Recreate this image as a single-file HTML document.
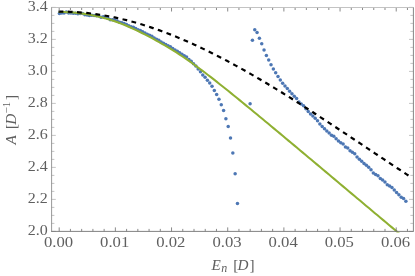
<!DOCTYPE html>
<html><head><meta charset="utf-8"><style>
html,body{margin:0;padding:0;background:#fff;}
svg{display:block;font-family:"Liberation Serif",serif;}
</style></head><body>
<svg width="415" height="276" viewBox="0 0 415 276">
<rect width="415" height="276" fill="#fff"/>
<g fill="#4d77b4"><circle cx="59.40" cy="13.60" r="1.75"/><circle cx="61.71" cy="13.02" r="1.75"/><circle cx="64.03" cy="12.92" r="1.75"/><circle cx="66.34" cy="12.12" r="1.75"/><circle cx="68.65" cy="12.94" r="1.75"/><circle cx="70.96" cy="13.03" r="1.75"/><circle cx="73.28" cy="13.30" r="1.75"/><circle cx="75.59" cy="13.20" r="1.75"/><circle cx="77.90" cy="13.63" r="1.75"/><circle cx="80.21" cy="13.60" r="1.75"/><circle cx="82.53" cy="13.42" r="1.75"/><circle cx="84.84" cy="14.65" r="1.75"/><circle cx="87.15" cy="14.93" r="1.75"/><circle cx="89.46" cy="15.62" r="1.75"/><circle cx="91.78" cy="15.22" r="1.75"/><circle cx="94.09" cy="15.38" r="1.75"/><circle cx="96.40" cy="15.71" r="1.75"/><circle cx="98.71" cy="15.67" r="1.75"/><circle cx="101.03" cy="17.24" r="1.75"/><circle cx="103.34" cy="16.79" r="1.75"/><circle cx="105.65" cy="17.31" r="1.75"/><circle cx="107.96" cy="18.35" r="1.75"/><circle cx="110.28" cy="19.75" r="1.75"/><circle cx="112.59" cy="19.85" r="1.75"/><circle cx="114.90" cy="20.00" r="1.75"/><circle cx="117.21" cy="20.89" r="1.75"/><circle cx="119.53" cy="22.29" r="1.75"/><circle cx="121.84" cy="22.80" r="1.75"/><circle cx="124.15" cy="23.56" r="1.75"/><circle cx="126.46" cy="24.55" r="1.75"/><circle cx="128.78" cy="25.64" r="1.75"/><circle cx="131.09" cy="26.85" r="1.75"/><circle cx="133.40" cy="27.35" r="1.75"/><circle cx="135.71" cy="28.60" r="1.75"/><circle cx="138.03" cy="29.71" r="1.75"/><circle cx="140.34" cy="30.52" r="1.75"/><circle cx="142.65" cy="31.85" r="1.75"/><circle cx="144.96" cy="32.88" r="1.75"/><circle cx="147.28" cy="34.35" r="1.75"/><circle cx="149.59" cy="35.29" r="1.75"/><circle cx="151.90" cy="36.27" r="1.75"/><circle cx="154.21" cy="38.00" r="1.75"/><circle cx="156.53" cy="39.18" r="1.75"/><circle cx="158.84" cy="40.31" r="1.75"/><circle cx="161.15" cy="41.89" r="1.75"/><circle cx="163.46" cy="43.23" r="1.75"/><circle cx="165.78" cy="44.47" r="1.75"/><circle cx="168.09" cy="45.86" r="1.75"/><circle cx="170.40" cy="46.72" r="1.75"/><circle cx="172.71" cy="48.38" r="1.75"/><circle cx="175.03" cy="49.92" r="1.75"/><circle cx="177.34" cy="51.22" r="1.75"/><circle cx="179.65" cy="52.66" r="1.75"/><circle cx="181.96" cy="54.15" r="1.75"/><circle cx="184.28" cy="55.81" r="1.75"/><circle cx="186.59" cy="57.10" r="1.75"/><circle cx="188.90" cy="59.50" r="1.75"/><circle cx="191.21" cy="61.26" r="1.75"/><circle cx="193.53" cy="63.82" r="1.75"/><circle cx="195.84" cy="65.99" r="1.75"/><circle cx="198.15" cy="69.07" r="1.75"/><circle cx="200.46" cy="71.65" r="1.75"/><circle cx="202.78" cy="74.93" r="1.75"/><circle cx="205.09" cy="77.18" r="1.75"/><circle cx="207.40" cy="80.17" r="1.75"/><circle cx="209.71" cy="82.99" r="1.75"/><circle cx="212.03" cy="86.28" r="1.75"/><circle cx="214.34" cy="90.49" r="1.75"/><circle cx="216.65" cy="94.41" r="1.75"/><circle cx="218.96" cy="99.32" r="1.75"/><circle cx="221.28" cy="104.82" r="1.75"/><circle cx="223.59" cy="110.56" r="1.75"/><circle cx="225.90" cy="118.80" r="1.75"/><circle cx="228.21" cy="126.45" r="1.75"/><circle cx="230.53" cy="137.97" r="1.75"/><circle cx="232.84" cy="153.03" r="1.75"/><circle cx="235.15" cy="173.87" r="1.75"/><circle cx="237.46" cy="203.54" r="1.75"/><circle cx="250.10" cy="103.80" r="1.75"/><circle cx="252.42" cy="40.30" r="1.75"/><circle cx="254.75" cy="29.72" r="1.75"/><circle cx="257.07" cy="32.42" r="1.75"/><circle cx="259.40" cy="38.24" r="1.75"/><circle cx="261.73" cy="43.66" r="1.75"/><circle cx="264.05" cy="49.93" r="1.75"/><circle cx="266.38" cy="55.46" r="1.75"/><circle cx="268.70" cy="59.90" r="1.75"/><circle cx="271.02" cy="64.75" r="1.75"/><circle cx="273.35" cy="69.06" r="1.75"/><circle cx="275.68" cy="72.78" r="1.75"/><circle cx="278.00" cy="76.41" r="1.75"/><circle cx="280.32" cy="80.03" r="1.75"/><circle cx="282.65" cy="83.19" r="1.75"/><circle cx="284.98" cy="86.00" r="1.75"/><circle cx="287.30" cy="88.62" r="1.75"/><circle cx="289.62" cy="91.16" r="1.75"/><circle cx="291.95" cy="93.66" r="1.75"/><circle cx="294.27" cy="96.14" r="1.75"/><circle cx="296.60" cy="98.52" r="1.75"/><circle cx="298.93" cy="101.89" r="1.75"/><circle cx="301.25" cy="104.01" r="1.75"/><circle cx="303.57" cy="105.84" r="1.75"/><circle cx="305.90" cy="108.79" r="1.75"/><circle cx="308.23" cy="111.44" r="1.75"/><circle cx="310.55" cy="114.04" r="1.75"/><circle cx="312.88" cy="116.04" r="1.75"/><circle cx="315.20" cy="118.24" r="1.75"/><circle cx="317.52" cy="120.78" r="1.75"/><circle cx="319.85" cy="123.96" r="1.75"/><circle cx="322.18" cy="126.52" r="1.75"/><circle cx="324.50" cy="128.76" r="1.75"/><circle cx="326.82" cy="131.11" r="1.75"/><circle cx="329.15" cy="132.96" r="1.75"/><circle cx="331.48" cy="135.35" r="1.75"/><circle cx="333.80" cy="136.35" r="1.75"/><circle cx="336.12" cy="138.80" r="1.75"/><circle cx="338.45" cy="140.89" r="1.75"/><circle cx="340.77" cy="142.63" r="1.75"/><circle cx="343.10" cy="143.90" r="1.75"/><circle cx="345.43" cy="147.07" r="1.75"/><circle cx="347.75" cy="148.08" r="1.75"/><circle cx="350.07" cy="150.76" r="1.75"/><circle cx="352.40" cy="152.26" r="1.75"/><circle cx="354.73" cy="153.87" r="1.75"/><circle cx="357.05" cy="157.02" r="1.75"/><circle cx="359.38" cy="159.18" r="1.75"/><circle cx="361.70" cy="161.13" r="1.75"/><circle cx="364.02" cy="163.47" r="1.75"/><circle cx="366.35" cy="165.15" r="1.75"/><circle cx="368.68" cy="167.25" r="1.75"/><circle cx="371.00" cy="169.70" r="1.75"/><circle cx="373.32" cy="172.92" r="1.75"/><circle cx="375.65" cy="174.46" r="1.75"/><circle cx="377.98" cy="175.85" r="1.75"/><circle cx="380.30" cy="178.48" r="1.75"/><circle cx="382.62" cy="179.98" r="1.75"/><circle cx="384.95" cy="182.03" r="1.75"/><circle cx="387.27" cy="184.75" r="1.75"/><circle cx="389.60" cy="186.05" r="1.75"/><circle cx="391.93" cy="187.49" r="1.75"/><circle cx="394.25" cy="189.96" r="1.75"/><circle cx="396.58" cy="192.55" r="1.75"/><circle cx="398.90" cy="194.66" r="1.75"/><circle cx="401.23" cy="197.33" r="1.75"/><circle cx="403.55" cy="198.40" r="1.75"/><circle cx="405.88" cy="201.26" r="1.75"/></g>
<path d="M58.60,11.99 L61.47,12.01 L64.35,12.07 L67.22,12.18 L70.09,12.34 L72.97,12.55 L75.84,12.81 L78.71,13.12 L81.58,13.47 L84.46,13.88 L87.33,14.33 L90.20,14.84 L93.08,15.40 L95.95,16.00 L98.82,16.66 L101.70,17.38 L104.57,18.14 L107.44,18.97 L110.32,19.84 L113.19,20.78 L116.06,21.76 L118.94,22.81 L121.81,23.91 L124.68,25.06 L127.55,26.26 L130.43,27.51 L133.30,28.81 L136.17,30.16 L139.05,31.54 L141.92,32.96 L144.79,34.41 L147.67,35.90 L150.54,37.41 L153.41,38.96 L156.29,40.53 L159.16,42.13 L162.03,43.77 L164.91,45.44 L167.78,47.14 L170.65,48.88 L173.52,50.66 L176.40,52.48 L179.27,54.34 L182.14,56.25 L185.02,58.19 L187.89,60.17 L190.76,62.19 L193.64,64.24 L196.51,66.33 L199.38,68.45 L202.26,70.59 L205.13,72.77 L208.00,74.96 L210.87,77.18 L213.75,79.42 L216.62,81.67 L219.49,83.94 L222.37,86.22 L225.24,88.51 L228.11,90.82 L230.99,93.14 L233.86,95.46 L236.73,97.80 L239.61,100.14 L242.48,102.48 L245.35,104.84 L248.23,107.20 L251.10,109.56 L253.97,111.93 L256.84,114.31 L259.72,116.68 L262.59,119.06 L265.46,121.45 L268.34,123.83 L271.21,126.22 L274.08,128.61 L276.96,131.00 L279.83,133.40 L282.70,135.80 L285.58,138.19 L288.45,140.59 L291.32,143.00 L294.19,145.40 L297.07,147.80 L299.94,150.21 L302.81,152.61 L305.69,155.02 L308.56,157.42 L311.43,159.83 L314.31,162.24 L317.18,164.65 L320.05,167.06 L322.93,169.47 L325.80,171.88 L328.67,174.29 L331.55,176.70 L334.42,179.11 L337.29,181.53 L340.16,183.94 L343.04,186.35 L345.91,188.77 L348.78,191.18 L351.66,193.59 L354.53,196.01 L357.40,198.42 L360.28,200.83 L363.15,203.25 L366.02,205.66 L368.90,208.08 L371.77,210.49 L374.64,212.91 L377.52,215.32 L380.39,217.74 L383.26,220.15 L386.13,222.57 L389.01,224.98 L391.88,227.40 L394.75,229.82 L397.63,232.23 L400.50,234.65" fill="none" stroke="#8fb032" stroke-width="2.05" clip-path="url(#c)"/>
<path d="M58.60,11.54 L61.55,11.55 L64.51,11.59 L67.46,11.67 L70.41,11.78 L73.36,11.93 L76.32,12.11 L79.27,12.32 L82.22,12.57 L85.18,12.85 L88.13,13.16 L91.08,13.50 L94.04,13.88 L96.99,14.30 L99.94,14.74 L102.89,15.22 L105.85,15.73 L108.80,16.27 L111.75,16.84 L114.71,17.45 L117.66,18.09 L120.61,18.76 L123.56,19.45 L126.52,20.18 L129.47,20.95 L132.42,21.74 L135.38,22.56 L138.33,23.41 L141.28,24.29 L144.24,25.20 L147.19,26.13 L150.14,27.10 L153.09,28.09 L156.05,29.11 L159.00,30.16 L161.95,31.23 L164.91,32.34 L167.86,33.46 L170.81,34.62 L173.76,35.79 L176.72,37.00 L179.67,38.22 L182.62,39.48 L185.58,40.75 L188.53,42.05 L191.48,43.37 L194.44,44.71 L197.39,46.08 L200.34,47.47 L203.29,48.87 L206.25,50.30 L209.20,51.75 L212.15,53.22 L215.11,54.71 L218.06,56.22 L221.01,57.74 L223.96,59.28 L226.92,60.84 L229.87,62.42 L232.82,64.02 L235.78,65.63 L238.73,67.26 L241.68,68.90 L244.64,70.55 L247.59,72.23 L250.54,73.91 L253.49,75.61 L256.45,77.32 L259.40,79.05 L262.35,80.79 L265.31,82.54 L268.26,84.30 L271.21,86.07 L274.16,87.86 L277.12,89.65 L280.07,91.45 L283.02,93.27 L285.98,95.09 L288.93,96.92 L291.88,98.78 L294.84,100.66 L297.79,102.54 L300.74,104.42 L303.69,106.32 L306.65,108.22 L309.60,110.13 L312.55,112.04 L315.51,113.96 L318.46,115.88 L321.41,117.81 L324.36,119.75 L327.32,121.68 L330.27,123.63 L333.22,125.57 L336.18,127.52 L339.13,129.47 L342.08,131.43 L345.04,133.38 L347.99,135.34 L350.94,137.31 L353.89,139.27 L356.85,141.23 L359.80,143.20 L362.75,145.17 L365.71,147.13 L368.66,149.10 L371.61,151.07 L374.56,153.04 L377.52,155.00 L380.47,156.97 L383.42,158.94 L386.38,160.90 L389.33,162.87 L392.28,164.83 L395.24,166.79 L398.19,168.75 L401.14,170.69 L404.09,172.62 L407.05,174.55 L410.00,176.48" fill="none" stroke="#000" stroke-width="2.2" stroke-dasharray="4.8 4.42"/>
<clipPath id="c"><rect x="51.5" y="7.5" width="361.8" height="224.9"/></clipPath>
<path d="M59.20,231.4 v-4.0 M59.20,7.5 v4.0 M70.43,231.4 v-2.5 M70.43,7.5 v2.5 M81.67,231.4 v-2.5 M81.67,7.5 v2.5 M92.90,231.4 v-2.5 M92.90,7.5 v2.5 M104.14,231.4 v-2.5 M104.14,7.5 v2.5 M115.37,231.4 v-4.0 M115.37,7.5 v4.0 M126.60,231.4 v-2.5 M126.60,7.5 v2.5 M137.84,231.4 v-2.5 M137.84,7.5 v2.5 M149.07,231.4 v-2.5 M149.07,7.5 v2.5 M160.31,231.4 v-2.5 M160.31,7.5 v2.5 M171.54,231.4 v-4.0 M171.54,7.5 v4.0 M182.77,231.4 v-2.5 M182.77,7.5 v2.5 M194.01,231.4 v-2.5 M194.01,7.5 v2.5 M205.24,231.4 v-2.5 M205.24,7.5 v2.5 M216.48,231.4 v-2.5 M216.48,7.5 v2.5 M227.71,231.4 v-4.0 M227.71,7.5 v4.0 M238.94,231.4 v-2.5 M238.94,7.5 v2.5 M250.18,231.4 v-2.5 M250.18,7.5 v2.5 M261.41,231.4 v-2.5 M261.41,7.5 v2.5 M272.65,231.4 v-2.5 M272.65,7.5 v2.5 M283.88,231.4 v-4.0 M283.88,7.5 v4.0 M295.11,231.4 v-2.5 M295.11,7.5 v2.5 M306.35,231.4 v-2.5 M306.35,7.5 v2.5 M317.58,231.4 v-2.5 M317.58,7.5 v2.5 M328.82,231.4 v-2.5 M328.82,7.5 v2.5 M340.05,231.4 v-4.0 M340.05,7.5 v4.0 M351.28,231.4 v-2.5 M351.28,7.5 v2.5 M362.52,231.4 v-2.5 M362.52,7.5 v2.5 M373.75,231.4 v-2.5 M373.75,7.5 v2.5 M384.99,231.4 v-2.5 M384.99,7.5 v2.5 M396.22,231.4 v-4.0 M396.22,7.5 v4.0 M407.45,231.4 v-2.5 M407.45,7.5 v2.5" stroke="#6c6c6c" stroke-width="0.8" fill="none"/>
<path d="M51.5,231.40 h4.3 M413.3,231.40 h-4.3 M51.5,223.40 h2.9 M413.3,223.40 h-2.9 M51.5,215.40 h2.9 M413.3,215.40 h-2.9 M51.5,207.40 h2.9 M413.3,207.40 h-2.9 M51.5,199.40 h4.3 M413.3,199.40 h-4.3 M51.5,191.40 h2.9 M413.3,191.40 h-2.9 M51.5,183.40 h2.9 M413.3,183.40 h-2.9 M51.5,175.40 h2.9 M413.3,175.40 h-2.9 M51.5,167.40 h4.3 M413.3,167.40 h-4.3 M51.5,159.40 h2.9 M413.3,159.40 h-2.9 M51.5,151.40 h2.9 M413.3,151.40 h-2.9 M51.5,143.40 h2.9 M413.3,143.40 h-2.9 M51.5,135.40 h4.3 M413.3,135.40 h-4.3 M51.5,127.40 h2.9 M413.3,127.40 h-2.9 M51.5,119.40 h2.9 M413.3,119.40 h-2.9 M51.5,111.40 h2.9 M413.3,111.40 h-2.9 M51.5,103.40 h4.3 M413.3,103.40 h-4.3 M51.5,95.40 h2.9 M413.3,95.40 h-2.9 M51.5,87.40 h2.9 M413.3,87.40 h-2.9 M51.5,79.40 h2.9 M413.3,79.40 h-2.9 M51.5,71.40 h4.3 M413.3,71.40 h-4.3 M51.5,63.40 h2.9 M413.3,63.40 h-2.9 M51.5,55.40 h2.9 M413.3,55.40 h-2.9 M51.5,47.40 h2.9 M413.3,47.40 h-2.9 M51.5,39.40 h4.3 M413.3,39.40 h-4.3 M51.5,31.40 h2.9 M413.3,31.40 h-2.9 M51.5,23.40 h2.9 M413.3,23.40 h-2.9 M51.5,15.40 h2.9 M413.3,15.40 h-2.9 M51.5,7.40 h4.3 M413.3,7.40 h-4.3" stroke="#b6b6b6" stroke-width="0.8" fill="none"/>
<path d="M51.05,7.5 H413.75" stroke="#bcbcbc" stroke-width="0.9" fill="none"/>
<path d="M51.05,231.4 H413.75" stroke="#737373" stroke-width="0.9" fill="none"/>
<path d="M51.6,7.5 V231.4" stroke="#8c8c8c" stroke-width="0.9" fill="none"/>
<path d="M413.40000000000003,7.5 V231.4" stroke="#868686" stroke-width="1.0" fill="none"/>
<g font-size="15.5" fill="#5f5f5f" style="filter:grayscale(1)"><text x="58.50" y="246.9" text-anchor="middle" textLength="29.2" lengthAdjust="spacingAndGlyphs">0.00</text><text x="114.67" y="246.9" text-anchor="middle" textLength="29.2" lengthAdjust="spacingAndGlyphs">0.01</text><text x="170.84" y="246.9" text-anchor="middle" textLength="29.2" lengthAdjust="spacingAndGlyphs">0.02</text><text x="227.01" y="246.9" text-anchor="middle" textLength="29.2" lengthAdjust="spacingAndGlyphs">0.03</text><text x="283.18" y="246.9" text-anchor="middle" textLength="29.2" lengthAdjust="spacingAndGlyphs">0.04</text><text x="339.35" y="246.9" text-anchor="middle" textLength="29.2" lengthAdjust="spacingAndGlyphs">0.05</text><text x="395.52" y="246.9" text-anchor="middle" textLength="29.2" lengthAdjust="spacingAndGlyphs">0.06</text><text x="47.7" y="235.30" text-anchor="end" textLength="20.0" lengthAdjust="spacingAndGlyphs">2.0</text><text x="47.7" y="203.30" text-anchor="end" textLength="20.0" lengthAdjust="spacingAndGlyphs">2.2</text><text x="47.7" y="171.30" text-anchor="end" textLength="20.0" lengthAdjust="spacingAndGlyphs">2.4</text><text x="47.7" y="139.30" text-anchor="end" textLength="20.0" lengthAdjust="spacingAndGlyphs">2.6</text><text x="47.7" y="107.30" text-anchor="end" textLength="20.0" lengthAdjust="spacingAndGlyphs">2.8</text><text x="47.7" y="75.30" text-anchor="end" textLength="20.0" lengthAdjust="spacingAndGlyphs">3.0</text><text x="47.7" y="43.30" text-anchor="end" textLength="20.0" lengthAdjust="spacingAndGlyphs">3.2</text><text x="47.7" y="11.30" text-anchor="end" textLength="20.0" lengthAdjust="spacingAndGlyphs">3.4</text>
<g font-size="15.2"><text x="211.4" y="269.6" font-style="italic">E</text><text x="221.2" y="271.9" font-style="italic" font-size="12">n</text><text x="233.2" y="269.6">[</text><text x="237.6" y="269.6" font-style="italic">D</text><text x="249.4" y="269.6">]</text></g>
<g font-size="15.2" transform="translate(15.9,144.6) rotate(-90)"><text x="0" y="0" font-style="italic">A</text><text x="15.6" y="0">[</text><text x="19.8" y="0" font-style="italic">D</text><text x="31.2" y="-6.3" font-size="11">−1</text><text x="44.6" y="0">]</text></g>
</g>
</svg>
</body></html>
